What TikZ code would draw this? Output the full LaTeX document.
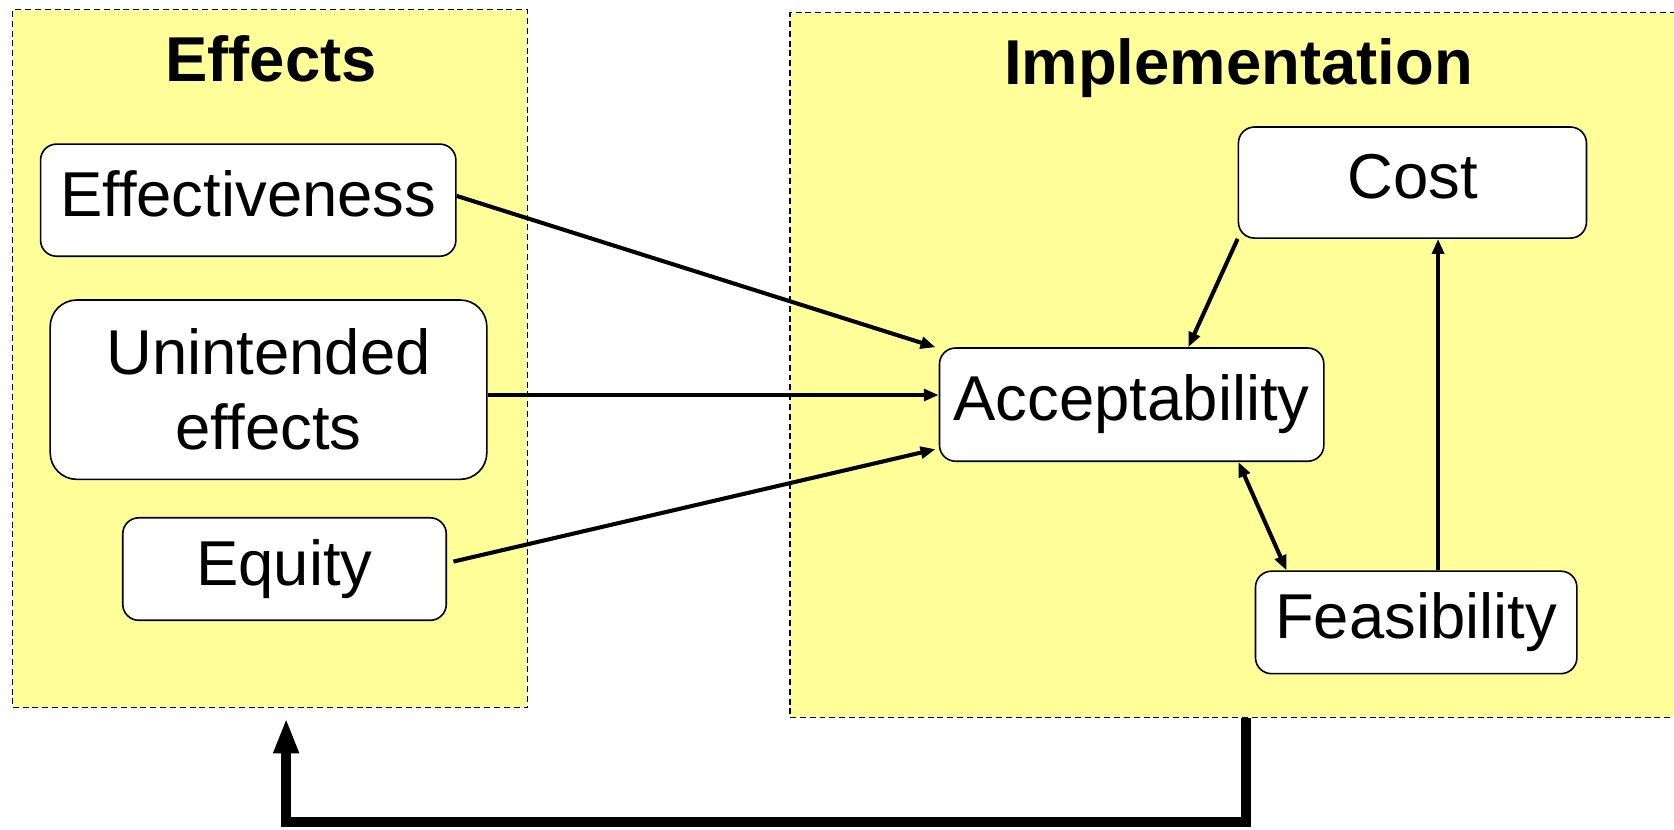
\documentclass[tikz,border=0pt]{standalone}
\usepackage{fontspec}
\setmainfont{Liberation Sans}
\usetikzlibrary{arrows.meta,calc}
\definecolor{panelyellow}{HTML}{FFFF99}
\begin{document}
\begin{tikzpicture}[x=0.5pt,y=-0.5pt,
  panel/.style={draw=black, line width=0.6pt, dash pattern=on 2.8pt off 1.8pt, fill=panelyellow, inner sep=0pt},
  boxbase/.style={draw=black, line width=0.75pt, fill=white, rounded corners=7.5pt, inner sep=0pt, font=\fontsize{29.7}{35}\selectfont},
  box/.style={boxbase, text height=21.4pt, text depth=6.2pt},
  paneltitle/.style={font=\bfseries\fontsize{29.7}{35}\selectfont, anchor=base, inner sep=0pt},
  arr/.style={line width=1.9pt, -{Triangle[length=7pt,width=5.5pt]}},
  dblarr/.style={line width=1.9pt, {Triangle[length=7pt,width=5.5pt]}-{Triangle[length=7pt,width=5.5pt]}},
  bigarr/.style={line width=4.5pt, -{Triangle[length=16.5pt,width=11pt]}, line join=miter}]
\useasboundingbox (0,0) rectangle (1568,777);

% panels
\node[panel, minimum width=241pt, minimum height=327pt] (effP) at (253,336) {};
\node[panel, minimum width=415pt, minimum height=330pt] (impP) at (1155,342) {};

% titles
\node[paneltitle] (effT) at (254,76) {Effects};
\node[paneltitle] (impT) at (1160,79.5) {Implementation};

% boxes
\node[box, minimum width=194.5pt, minimum height=52.5pt] (eff) at (232.5,187.5) {Effectiveness};
\node[boxbase, rounded corners=12.5pt, align=center, minimum width=204.5pt, minimum height=84pt] (unint) at (251.5,365) {Unintended\\effects};
\node[box, minimum width=151.5pt, minimum height=48pt] (equ) at (266.5,533) {Equity};
\node[box, minimum width=180pt, minimum height=53pt] (acc) at (1060,379) {Acceptability};
\node[box, minimum width=163pt, minimum height=52pt] (cost) at (1323,171) {Cost};
\node[box, minimum width=150.5pt, minimum height=48pt] (feas) at (1326.5,583) {Feasibility};

% connectors
\draw[arr] ([yshift=2pt]eff.east) -- ([xshift=-1.5pt]acc.north west);
\draw[arr] ([yshift=-2.5pt]unint.east) -- ([yshift=-2.5pt]unint.east -| acc.west);
\draw[arr] ([xshift=3pt,yshift=3.5pt]equ.east) -- ([xshift=-1.5pt,yshift=6pt]acc.south west);
\draw[arr] (cost.south west) -- ([xshift=26.5pt]acc.north);
\draw[dblarr] ([xshift=50pt]acc.south) -- ([xshift=-60.75pt]feas.north);
\draw[arr] ([xshift=10.25pt]feas.north) -- ([xshift=10.25pt]feas.north |- cost.south);

% feedback arrow
\coordinate (fb) at (268,770);
\draw[bigarr] ([xshift=6pt]impP.south) |- (fb) -- ([yshift=-4.5pt]effP.south -| fb);
\end{tikzpicture}
\end{document}
